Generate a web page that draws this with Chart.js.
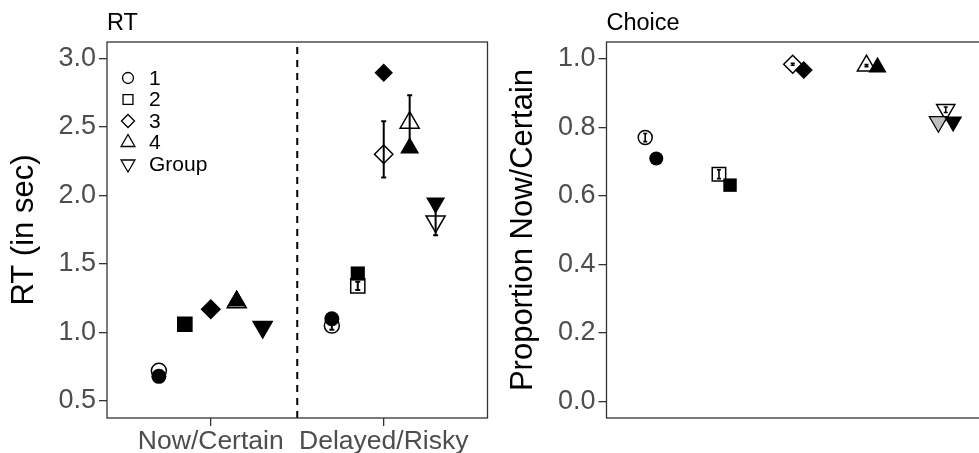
<!DOCTYPE html>
<html>
<head>
<meta charset="utf-8">
<script src="https://cdn.jsdelivr.net/npm/chart.js@4.4.0/dist/chart.umd.min.js"></script>
<style>
  html, body { margin: 0; padding: 0; background: #fff; overflow: hidden; }
  body { width: 979px; height: 453px; position: relative; }
  #rtBox { position: absolute; left: 0; top: 0; width: 500px; height: 453px; }
  #choiceBox { position: absolute; left: 490px; top: 0; width: 520px; height: 453px; }
</style>
</head>
<body>
<div id="rtBox"><canvas id="rtChart"></canvas></div>
<div id="choiceBox"><canvas id="choiceChart"></canvas></div>
<script>
// categories
const subjects = ['1', '2', '3', '4', 'Group'];
const rtConditions = ['Now/Certain', 'Delayed/Risky'];
const rtTicks = [0.5, 1.0, 1.5, 2.0, 2.5, 3.0];
const choiceTicks = [0.0, 0.2, 0.4, 0.6, 0.8, 1.0];

// RT panel (open = first condition, filled = second)
const rtOpenNow = [0.72, 1.06, 1.17, 1.22, 1.04];
const rtFilledNow = [0.68, 1.055, 1.17, 1.23, 1.04];
const rtOpenDelayed = [1.05, 1.34, 2.30, 2.53, 1.81];
const rtOpenDelayedLo = [1.02, 1.31, 2.13, 2.35, 1.71];
const rtOpenDelayedHi = [1.08, 1.37, 2.54, 2.73, 1.91];
const rtFilledDelayed = [1.10, 1.43, 2.895, 2.345, 1.945];

// Choice panel
const choiceOpen = [0.770, 0.663, 0.984, 0.980, 0.851];
const choiceOpenLo = [0.758, 0.650, 0.981, 0.977, 0.843];
const choiceOpenHi = [0.782, 0.676, 0.987, 0.983, 0.859];
const choiceFilled = [0.709, 0.631, 0.967, 0.975, 0.816];
const choiceGroupGray = 0.816;

const FONT = "'Liberation Sans', Arial, Helvetica, sans-serif";
const shapes = ['circle', 'rect', 'rectRot', 'triangle', 'triangle'];
const rotations = [0, 0, 0, 0, 180];
const rtRadius = [7.5, 10, 9.2, 11, 11];
const choiceRadius = [7, 9.5, 9, 10.5, 10.5];
const legendRadius = [5.5, 7, 6.5, 8, 8];

function rtPoints(nowVals, delayedVals, lo, hi) {
  const pts = [];
  [nowVals, delayedVals].forEach((vals, c) => {
    vals.forEach((v, i) => {
      const p = { x: c + 1 + (i - 2) * 0.15, y: v };
      if (c === 1 && lo) { p.lo = lo[i]; p.hi = hi[i]; }
      pts.push(p);
    });
  });
  return pts;
}

const twice = a => a.concat(a);

// error bars, border, titles, dashed line and legend
const panelDecor = {
  id: 'panelDecor',
  beforeDatasetsDraw(chart, args, opts) {
    if (opts.vline == null) return;
    const { ctx, chartArea } = chart;
    const x = chart.scales.x.getPixelForValue(opts.vline);
    ctx.save();
    ctx.strokeStyle = '#000';
    ctx.lineWidth = 2;
    ctx.setLineDash([7, 6]);
    ctx.beginPath();
    ctx.moveTo(x, chartArea.top + 5);
    ctx.lineTo(x, chartArea.bottom);
    ctx.stroke();
    ctx.restore();
  },
  afterDatasetDraw(chart, args) {
    const ds = chart.data.datasets[args.index];
    if (!ds.errorBars) return;
    const ctx = chart.ctx, xs = chart.scales.x, ys = chart.scales.y;
    const cap = ds.errorBars.cap;
    ctx.save();
    ctx.strokeStyle = '#000';
    ctx.lineWidth = ds.errorBars.width;
    ds.data.forEach(p => {
      if (p.lo == null) return;
      const px = xs.getPixelForValue(p.x);
      const y1 = ys.getPixelForValue(p.lo), y2 = ys.getPixelForValue(p.hi);
      ctx.beginPath();
      ctx.moveTo(px, y1); ctx.lineTo(px, y2);
      ctx.moveTo(px - cap, y1); ctx.lineTo(px + cap, y1);
      ctx.moveTo(px - cap, y2); ctx.lineTo(px + cap, y2);
      ctx.stroke();
    });
    ctx.restore();
  },
  afterDraw(chart, args, opts) {
    const { ctx, chartArea } = chart;
    ctx.save();
    ctx.strokeStyle = '#333333';
    ctx.lineWidth = 1.3;
    ctx.strokeRect(chartArea.left, chartArea.top, chartArea.right - chartArea.left, chartArea.bottom - chartArea.top);
    ctx.fillStyle = '#000';
    ctx.font = '23.5px ' + FONT;
    ctx.textBaseline = 'alphabetic';
    ctx.fillText(opts.title, chartArea.left, 29.5);
    if (opts.legend) {
      ctx.font = '21px ' + FONT;
      ctx.textBaseline = 'middle';
      subjects.forEach((s, i) => {
        const x = chartArea.left + 21, y = chartArea.top + 36 + i * 21.5;
        ctx.fillStyle = '#fff';
        ctx.strokeStyle = '#000';
        ctx.lineWidth = 1.3;
        Chart.helpers.drawPoint(ctx, { pointStyle: shapes[i], rotation: rotations[i], radius: legendRadius[i], borderWidth: 1.3 }, x, y);
        ctx.fillStyle = '#000';
        ctx.fillText(s, chartArea.left + 42, y + 1);
      });
    }
    ctx.restore();
  }
};

function yScale(ticks, min, max, title, titlePad) {
  return {
    type: 'linear', min: min, max: max,
    afterBuildTicks: s => { s.ticks = ticks.map(v => ({ value: v })); },
    afterFit: s => { s.width = titlePad.width; },
    ticks: { callback: v => v.toFixed(1), color: '#4D4D4D', font: { size: 27, family: FONT }, padding: 3 },
    grid: { display: true, drawOnChartArea: false, drawTicks: true, tickLength: 8, color: '#333333', lineWidth: 1.3 },
    border: { display: false },
    title: { display: true, text: title, color: '#000', font: { size: 31, family: FONT }, padding: { top: titlePad.top, bottom: 0 } }
  };
}

new Chart(document.getElementById('rtChart'), {
  type: 'scatter',
  data: {
    datasets: [
      {
        label: 'filled',
        data: rtPoints(rtFilledNow, rtFilledDelayed),
        pointStyle: twice(shapes), pointRotation: twice(rotations), pointRadius: twice(rtRadius),
        backgroundColor: '#000', borderColor: '#000', borderWidth: 0, order: 1, clip: false
      },
      {
        label: 'open',
        data: rtPoints(rtOpenNow, rtOpenDelayed, rtOpenDelayedLo, rtOpenDelayedHi),
        pointStyle: twice(shapes), pointRotation: twice(rotations), pointRadius: twice(rtRadius),
        backgroundColor: '#fff', borderColor: '#000', borderWidth: 1.5, order: 2, clip: false,
        errorBars: { width: 2, cap: 2.5 }
      }
    ]
  },
  options: {
    responsive: true, maintainAspectRatio: false, animation: false, events: [],
    layout: { padding: { left: 0, top: 42, right: 9, bottom: 0 } },
    scales: {
      x: {
        type: 'linear', min: 0.4, max: 2.6,
        afterBuildTicks: s => { s.ticks = [1, 2].map(v => ({ value: v })); },
        afterFit: s => { s.height = 35; },
        ticks: { callback: v => rtConditions[v - 1], color: '#4D4D4D', font: { size: 26.5, family: FONT }, padding: 0, autoSkip: false, maxRotation: 0 },
        grid: { display: true, drawOnChartArea: false, drawTicks: true, tickLength: 8, color: '#333333', lineWidth: 1.3 },
        border: { display: false }
      },
      y: yScale(rtTicks, 0.376, 3.119, 'RT (in sec)', { width: 107, top: 6 })
    },
    plugins: {
      legend: { display: false }, tooltip: { enabled: false },
      panelDecor: { title: 'RT', vline: 1.5, legend: true }
    }
  },
  plugins: [panelDecor]
});

const choiceX = i => i + 1;
new Chart(document.getElementById('choiceChart'), {
  type: 'scatter',
  data: {
    datasets: [
      {
        label: 'filled',
        data: choiceFilled.map((v, i) => ({ x: choiceX(i) + (i === 4 ? 0.1 : 0.075), y: v })),
        pointStyle: shapes, pointRotation: rotations, pointRadius: choiceRadius,
        backgroundColor: '#000', borderColor: '#000', borderWidth: 0, order: 1, clip: false
      },
      {
        label: 'group gray',
        data: [{ x: choiceX(4) - 0.1, y: choiceGroupGray }],
        pointStyle: 'triangle', pointRotation: 180, pointRadius: choiceRadius[4],
        backgroundColor: '#BEBEBE', borderColor: '#000', borderWidth: 1.2, order: 2, clip: false
      },
      {
        label: 'open',
        data: choiceOpen.map((v, i) => ({ x: choiceX(i) - (i === 4 ? 0 : 0.075), y: v, lo: choiceOpenLo[i], hi: choiceOpenHi[i] })),
        pointStyle: shapes, pointRotation: rotations, pointRadius: choiceRadius,
        backgroundColor: '#fff', borderColor: '#000', borderWidth: 1.5, order: 3, clip: false,
        errorBars: { width: 1.6, cap: 2 }
      }
    ]
  },
  options: {
    responsive: true, maintainAspectRatio: false, animation: false, events: [],
    layout: { padding: { left: 0, top: 42, right: 20, bottom: 0 } },
    scales: {
      x: {
        type: 'linear', min: 0.4, max: 5.6,
        afterFit: s => { s.height = 35; },
        ticks: { display: false },
        grid: { display: false },
        border: { display: false }
      },
      y: yScale(choiceTicks, -0.049, 1.049, 'Proportion Now/Certain', { width: 116.5, top: 15 })
    },
    plugins: {
      legend: { display: false }, tooltip: { enabled: false },
      panelDecor: { title: 'Choice', vline: null, legend: false }
    }
  },
  plugins: [panelDecor]
});
</script>
</body>
</html>
